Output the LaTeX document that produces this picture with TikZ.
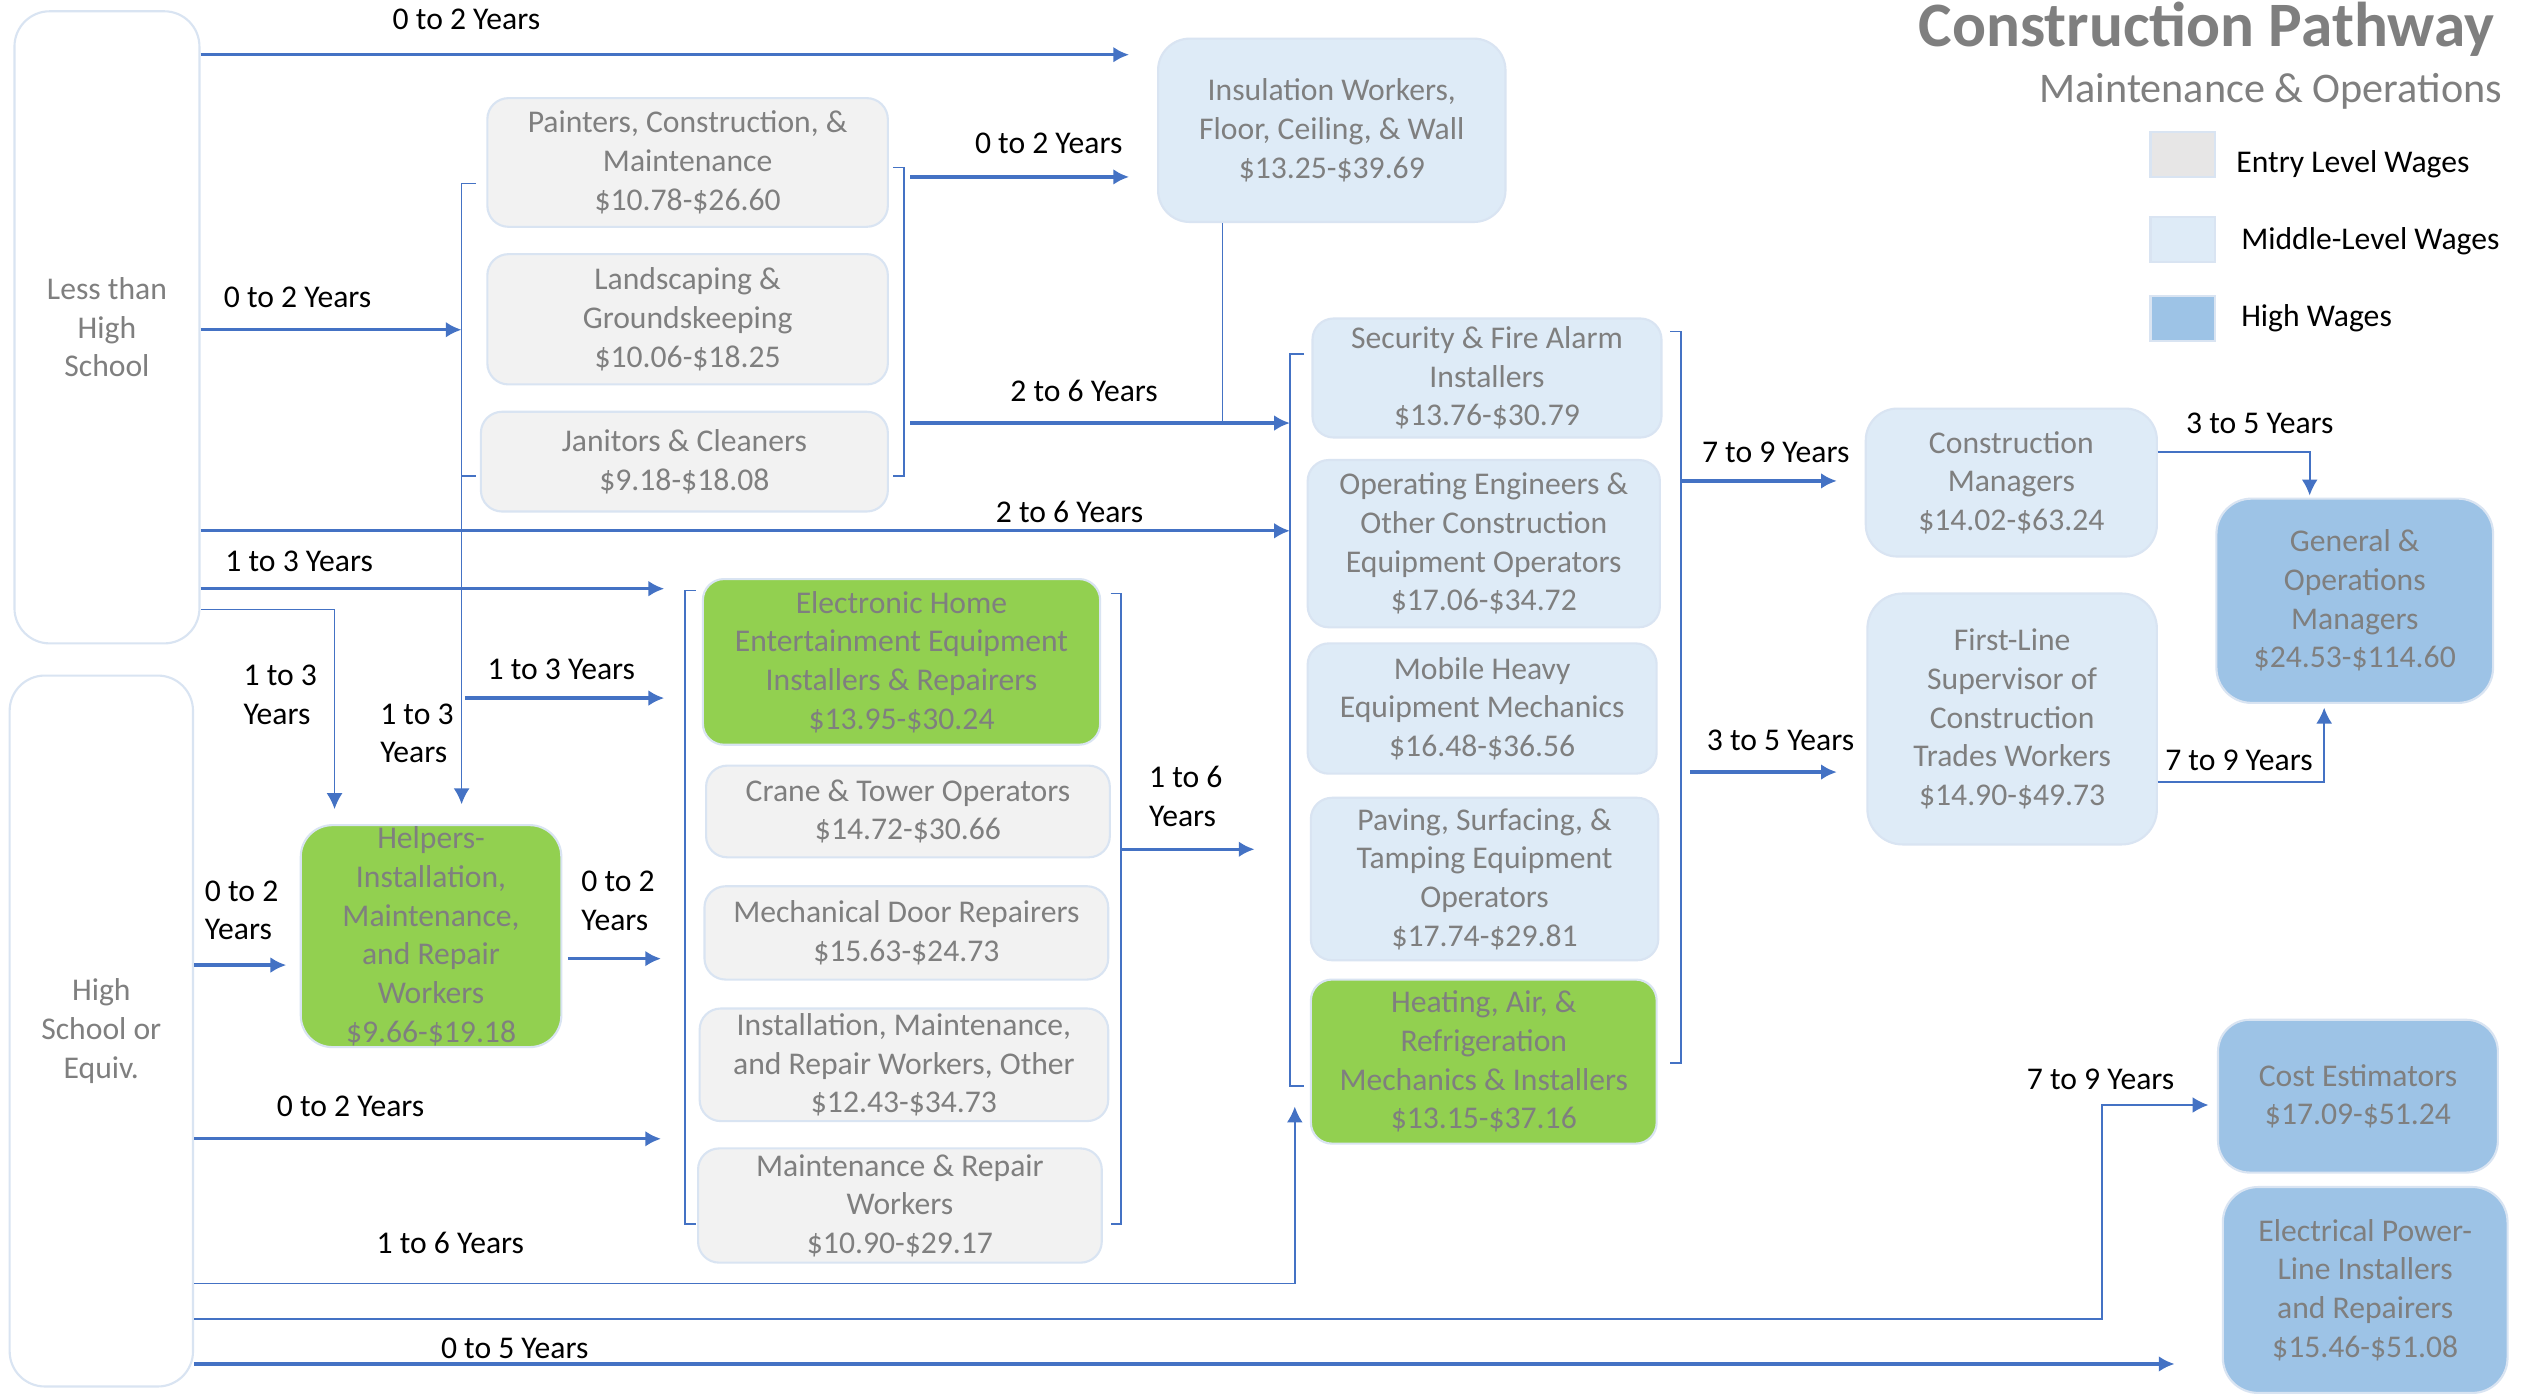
\documentclass[tikz,border=0pt]{standalone}
\usepackage{fontspec}
\setmainfont{Carlito}
\usetikzlibrary{arrows.meta}
\definecolor{arrblue}{HTML}{4472C4}
\definecolor{txtgray}{HTML}{7F7F7F}
\definecolor{entryfill}{HTML}{F2F2F2}
\definecolor{keygray}{HTML}{E7E6E6}
\definecolor{midfill}{HTML}{DEEBF7}
\definecolor{highfill}{HTML}{9DC3E6}
\definecolor{hotfill}{HTML}{92D050}
\definecolor{edgeblue}{HTML}{D9E4F2}
\begin{document}
\begin{tikzpicture}[>={Latex[length=4.5pt,width=4.5pt]}, x=0.016084cm, y=-0.016084cm,
  font=\fontsize{9}{11}\selectfont,
  box/.style 2 args={draw=edgeblue, line width=0.6pt, rounded corners=6pt, inner sep=0pt,
    align=center, text=txtgray, minimum width=#1*0.016084cm, minimum height=#2*0.016084cm},
  entry/.style={fill=entryfill}, mid/.style={fill=midfill},
  high/.style={fill=highfill}, hot/.style={fill=hotfill},
  lvl/.style={fill=white, rounded corners=10pt},
  yrs/.style={inner sep=0pt, align=left},
  arr/.style={->, draw=arrblue, line width=0.9pt},
  ln/.style={draw=arrblue, line width=0.45pt}]
  \fill[white] (0,0) rectangle (1568,869);
  \useasboundingbox (0,0) rectangle (1568,869);
  \node[anchor=base east, inner sep=0pt, text=txtgray, font=\fontsize{18}{22}\selectfont\bfseries] (ttl) at (1551,29) {Construction Pathway};
  \node[anchor=base east, inner sep=0pt, text=txtgray, font=\fontsize{12}{14}\selectfont] (sub) at (1556,64) {Maintenance \& Operations};
  \node[box={40}{28}, fill=keygray, rounded corners=0pt] (sq1) at (1357,96) {};
  \node[box={40}{28}, mid, rounded corners=0pt] (sq2) at (1357,149) {};
  \node[box={40}{28}, high, rounded corners=0pt] (sq3) at (1357,198) {};
  \node[anchor=west, inner sep=0pt] (lg1) at (1390,102) {Entry Level Wages};
  \node[anchor=west, inner sep=0pt] (lg2) at (1393,150) {Middle-Level Wages};
  \node[anchor=west, inner sep=0pt] (lg3) at (1393,198) {High Wages};
  \node[box={115}{393}, lvl] (lths) at (66.5,203.5) {Less than\\High\\School};
  \node[box={114}{442}, lvl] (hs) at (63,641) {High\\School or\\Equiv.};
  \node[box={249}{80}, entry] (pnt) at (427.5,101) {Painters, Construction, \&\\Maintenance\\\$10.78-\$26.60};
  \node[box={249}{81}, entry] (lnd) at (427.5,198.5) {Landscaping \&\\Groundskeeping\\\$10.06-\$18.25};
  \node[box={253}{62}, entry] (jan) at (425.5,287) {Janitors \& Cleaners\\\$9.18-\$18.08};
  \node[box={216}{114}, mid, rounded corners=9pt] (ins) at (828,81) {Insulation Workers,\\Floor, Ceiling, \& Wall\\\$13.25-\$39.69};
  \node[box={217}{74}, mid] (sec) at (924.5,235) {Security \& Fire Alarm\\Installers\\\$13.76-\$30.79};
  \node[box={219}{104}, mid] (ope) at (922.5,338) {Operating Engineers \&\\Other Construction\\Equipment Operators\\\$17.06-\$34.72};
  \node[box={217}{81}, mid] (mob) at (921.5,440.5) {Mobile Heavy\\Equipment Mechanics\\\$16.48-\$36.56};
  \node[box={216}{101}, mid] (pav) at (923,546.5) {Paving, Surfacing, \&\\Tamping Equipment\\Operators\\\$17.74-\$29.81};
  \node[box={215}{102}, hot] (hvac) at (922.5,660) {Heating, Air, \&\\Refrigeration\\Mechanics \& Installers\\\$13.15-\$37.16};
  \node[box={247}{103}, hot] (ehe) at (560.5,411.5) {Electronic Home\\Entertainment Equipment\\Installers \& Repairers\\\$13.95-\$30.24};
  \node[box={251}{57}, entry] (crn) at (564.5,504.5) {Crane \& Tower Operators\\\$14.72-\$30.66};
  \node[box={251}{58}, entry] (mdr) at (563.5,580) {Mechanical Door Repairers\\\$15.63-\$24.73};
  \node[box={254}{70}, entry] (imr) at (562,662) {Installation, Maintenance,\\and Repair Workers, Other\\\$12.43-\$34.73};
  \node[box={251}{71}, entry] (mrw) at (559.5,749.5) {Maintenance \& Repair\\Workers\\\$10.90-\$29.17};
  \node[box={162}{138}, hot, rounded corners=9pt] (hlp) at (268,582) {Helpers-\\Installation,\\Maintenance,\\and Repair\\Workers\\\$9.66-\$19.18};
  \node[box={181}{92}, mid, rounded corners=9pt] (cmg) at (1250.5,300) {Construction\\Managers\\\$14.02-\$63.24};
  \node[box={180}{156}, mid, rounded corners=10pt] (fls) at (1251,447) {First-Line\\Supervisor of\\Construction\\Trades Workers\\\$14.90-\$49.73};
  \node[box={172}{127}, high, rounded corners=10pt] (gom) at (1464,373.5) {General \&\\Operations\\Managers\\\$24.53-\$114.60};
  \node[box={174}{95}, high, rounded corners=9pt] (cst) at (1466,681.5) {Cost Estimators\\\$17.09-\$51.24};
  \node[box={177}{128}, high, rounded corners=10pt] (epl) at (1470.5,802) {Electrical Power-\\Line Installers\\and Repairers\\\$15.46-\$51.08};
  \foreach \n/\x/\y in {q1/287/114, q2/287/296, q3/562/104, q4/562/296,
    q5/426/367, q6/426/761, q7/697/369, q8/697/761,
    q9/802/220, q10/802/675, q11/1045/206, q12/1045/661,
    e1/702/34, e2/287/205, s3/566/110, e3/702/110, s4/566/263, e4/802/263, k4/760/263,
    e5/802/330, e6/413/366, k7/208/379, e7/208/503, e8/287/500, s9/289/434, e9/413/434,
    e10/178/600, s11/353/596, e11/411/596, e12/411/708, s13/697/528, e13/780/528,
    k14/805/798, e14/805/688, k15/1307/820, e15/1373/687, e16/1352/848,
    s17/1046/299, e17/1142/299, s18/1051/480, e18/1142/480,
    k19/1436/281, e19/1436/308, k20/1445/486, e20/1445/440}
    \coordinate (\n) at (\x,\y);
  \draw[ln] ([xshift=4pt]q1) -- (q1) -- (q2) -- ([xshift=4pt]q2);
  \draw[ln] ([xshift=-3pt]q3) -- (q3) -- (q4) -- ([xshift=-3pt]q4);
  \draw[ln] ([xshift=3pt]q5) -- (q5) -- (q6) -- ([xshift=3pt]q6);
  \draw[ln] ([xshift=-3pt]q7) -- (q7) -- (q8) -- ([xshift=-3pt]q8);
  \draw[ln] ([xshift=4pt]q9) -- (q9) -- (q10) -- ([xshift=4pt]q10);
  \draw[ln] ([xshift=-3pt]q11) -- (q11) -- (q12) -- ([xshift=-3pt]q12);
  \draw[arr] (lths.east |- e1) -- (e1);
  \draw[arr] (lths.east |- e2) -- (e2);
  \draw[arr] (s3) -- (e3);
  \draw[arr] (s4) -- (e4);
  \draw[ln] (ins.south -| k4) -- (k4);
  \draw[arr] (lths.east |- e5) -- (e5);
  \draw[arr] (lths.east |- e6) -- (e6);
  \draw[ln,->] (lths.east |- k7) -- (k7) -- (e7);
  \draw[ln,->] (q2) -- (e8);
  \draw[arr] (s9) -- (e9);
  \draw[arr] (hs.east |- e10) -- (e10);
  \draw[arr] (s11) -- (e11);
  \draw[arr] (hs.east |- e12) -- (e12);
  \draw[arr] (s13) -- (e13);
  \draw[ln,->] (hs.east |- k14) -- (k14) -- (e14);
  \draw[ln,->] (hs.east |- k15) -- (k15) |- (e15);
  \draw[arr] (hs.east |- e16) -- (e16);
  \draw[arr] (s17) -- (e17);
  \draw[arr] (s18) -- (e18);
  \draw[ln,->] (cmg.east |- k19) -- (k19) -- (e19);
  \draw[ln,->] (fls.east |- k20) -- (k20) -- (e20);
  \node[yrs] (t1) at (290,12) {0 to 2 Years};
  \node[yrs] (t2) at (185,185) {0 to 2 Years};
  \node[yrs] (t3) at (652,89) {0 to 2 Years};
  \node[yrs] (t4) at (674,243) {2 to 6 Years};
  \node[yrs] (t5) at (665,318) {2 to 6 Years};
  \node[yrs] (t6) at (186,349) {1 to 3 Years};
  \node[yrs, anchor=west] (t7) at (151,432) {1 to 3\\Years};
  \node[yrs, anchor=west] (t8) at (236,456) {1 to 3\\Years};
  \node[yrs] (t9) at (349,416) {1 to 3 Years};
  \node[yrs, anchor=west] (t10) at (127,566) {0 to 2\\Years};
  \node[yrs, anchor=west] (t11) at (361,560) {0 to 2\\Years};
  \node[yrs] (t12) at (218,688) {0 to 2 Years};
  \node[yrs, anchor=west] (t13) at (714,495) {1 to 6\\Years};
  \node[yrs] (t14) at (280,773) {1 to 6 Years};
  \node[yrs] (t15) at (320,838) {0 to 5 Years};
  \node[yrs] (t16) at (1104,281) {7 to 9 Years};
  \node[yrs] (t17) at (1107,460) {3 to 5 Years};
  \node[yrs] (t18) at (1405,263) {3 to 5 Years};
  \node[yrs] (t19) at (1392,473) {7 to 9 Years};
  \node[yrs] (t20) at (1306,671) {7 to 9 Years};
\end{tikzpicture}
\end{document}
